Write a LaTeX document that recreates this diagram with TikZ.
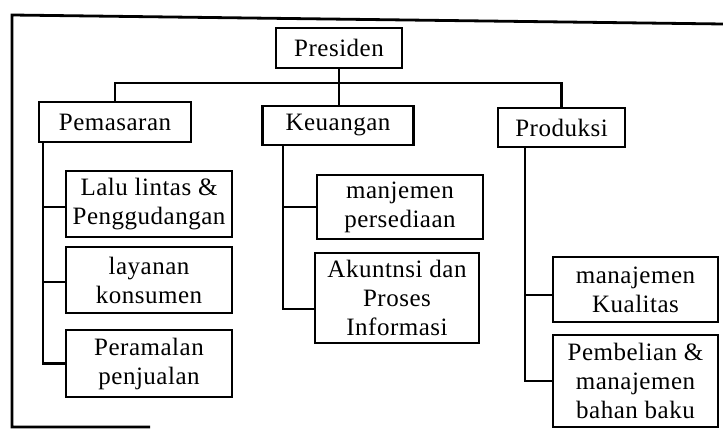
\documentclass[tikz,border=0pt]{standalone}
\usepackage{fontspec}
\setmainfont{Liberation Serif}[LetterSpace=2]
\begin{document}
\begin{tikzpicture}[x=1pt,y=-1pt,
  unit/.style={draw,line width=2.8pt,rectangle,inner sep=0pt,align=center,
    font=\fontsize{25}{29}\selectfont},
  link/.style={line width=2.8pt,line join=miter}]
\useasboundingbox (0,0) rectangle (723,430);

% outer frame
\coordinate (fa) at (150,427);
\coordinate (fb) at (12,427);
\coordinate (fc) at (12,15);
\coordinate (fd) at (723,24);
\draw[link] (fa) -- (fb) -- (fc) -- (fd);

% top level
\node[unit,minimum width=126,minimum height=40] (pres) at (339,48) {Presiden};
\node[unit,minimum width=152,minimum height=40] (pem) at (115,122) {Pemasaran};
\node[unit,minimum width=151,minimum height=39] (keu) at (338,125.5) {Keuangan};
\node[unit,minimum width=127,minimum height=39] (pro) at (561.5,127.5) {Produksi};

\coordinate (bus) at (339,83);
\draw[link] (pres.south) -- (pres.south |- keu.north);
\draw[link] (pem.north) |- (bus) -| (pro.north);

% Pemasaran
\node[unit,minimum width=166,minimum height=66] (ll) at (149,204) {Lalu lintas \&\\Penggudangan};
\node[unit,minimum width=166,minimum height=66] (lay) at (149,280) {layanan\\konsumen};
\node[unit,minimum width=166,minimum height=67] (per) at (149,363.5) {Peramalan\\penjualan};
\coordinate (pspine) at (43,142);
\draw[link] (per.west) -| (pspine);
\draw[link] ([yshift=-3pt]ll.west) -- ([yshift=-3pt]ll.west -| pspine);
\draw[link] ([yshift=-2pt]lay.west) -- ([yshift=-2pt]lay.west -| pspine);

% Keuangan
\node[unit,minimum width=166,minimum height=64] (mp) at (400,207) {manjemen\\persediaan};
\node[unit,minimum width=164,minimum height=90] (ak) at (397,298) {Akuntnsi dan\\Proses\\Informasi};
\coordinate (kspine) at (283,145);
\draw[link] ([yshift=-11pt]ak.west) -| (kspine);
\draw[link] (mp.west) -- (mp.west -| kspine);

% Produksi
\node[unit,minimum width=165,minimum height=65] (mk) at (635.5,289.5) {manajemen\\Kualitas};
\node[unit,minimum width=165,minimum height=92] (pb) at (635.5,381) {Pembelian \&\\manajemen\\bahan baku};
\coordinate (rspine) at (525,147);
\draw[link] (pb.west) -| (rspine);
\draw[link] ([yshift=-5.5pt]mk.west) -- ([yshift=-5.5pt]mk.west -| rspine);
\end{tikzpicture}
\end{document}
